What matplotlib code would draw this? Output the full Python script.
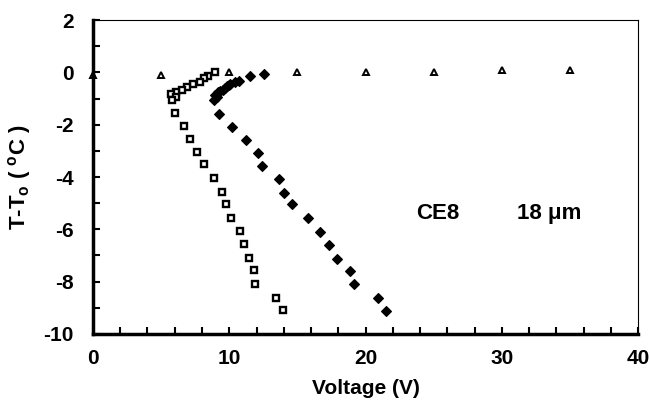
import matplotlib
matplotlib.use("Agg")
import matplotlib.pyplot as plt
from matplotlib.ticker import MultipleLocator

# open squares
sq_x = [8.95, 8.42, 8.17, 7.85, 7.36, 6.87, 6.53, 6.09, 5.74, 6.07, 5.80, 5.99,
        6.68, 7.12, 7.61, 8.14, 8.90, 9.44, 9.76, 10.10, 10.76, 11.06, 11.42,
        11.79, 11.89, 13.43, 13.96]
sq_y = [0.0, -0.13, -0.20, -0.38, -0.43, -0.56, -0.66, -0.76, -0.84, -0.94, -1.04, -1.55,
        -2.06, -2.55, -3.05, -3.52, -4.03, -4.57, -5.04, -5.55, -6.07, -6.58, -7.11,
        -7.56, -8.09, -8.61, -9.08]

# filled diamonds
dm_x = [12.55, 11.52, 10.73, 10.40, 10.05, 9.95, 9.81, 9.65, 9.52, 9.35, 9.19, 9.10,
        8.95, 8.88, 9.24, 10.20, 11.23, 12.08, 12.40, 13.65, 14.01, 14.58, 15.80,
        16.63, 17.34, 17.90, 18.83, 19.13, 20.91, 21.50]
dm_y = [-0.05, -0.15, -0.33, -0.38, -0.43, -0.48, -0.53, -0.60, -0.66, -0.72, -0.76, -0.95,
        -0.88, -1.04, -1.58, -2.09, -2.57, -3.10, -3.56, -4.07, -4.61, -5.05, -5.58,
        -6.10, -6.60, -7.13, -7.58, -8.10, -8.64, -9.12]

# open triangles
tr_x = [0, 5, 10, 15, 20, 25, 30, 35]
tr_y = [-0.08, -0.08, 0.0, 0.0, 0.0, 0.02, 0.1, 0.1]

plt.rcParams['font.family'] = ['Liberation Sans', 'DejaVu Sans']
plt.rcParams['font.weight'] = 'bold'
plt.rcParams['axes.unicode_minus'] = False
plt.rcParams['mathtext.fontset'] = 'custom'
plt.rcParams['mathtext.rm'] = 'Liberation Sans:bold'
plt.rcParams['mathtext.default'] = 'rm'

fig = plt.figure(figsize=(6.5, 4.2), dpi=100)
ax = fig.add_axes([0.143, 0.205, 0.839, 0.747])

ax.plot(sq_x, sq_y, 's', mfc='white', mec='black', ms=5, mew=1.7)
ax.plot(dm_x, dm_y, 'D', mfc='black', mec='black', ms=5, mew=0.8)
ax.plot(tr_x, tr_y, '^', mfc='white', mec='black', ms=5, mew=1.4, clip_on=False, zorder=1)

ax.set_xlim(0, 40)
ax.set_ylim(-10, 2)
ax.xaxis.set_major_locator(MultipleLocator(10))
ax.xaxis.set_minor_locator(MultipleLocator(2))
ax.yaxis.set_major_locator(MultipleLocator(2))
ax.yaxis.set_minor_locator(MultipleLocator(1))
ax.tick_params(which='both', direction='in', length=5, width=1.5, labelsize=15)
ax.tick_params(axis='x', pad=11)
ax.tick_params(axis='y', pad=14)

for s in ['left', 'bottom']:
    ax.spines[s].set_linewidth(2.5)
for s in ['top', 'right']:
    ax.spines[s].set_linewidth(0.8)

ax.set_xlabel('Voltage (V)', fontsize=15, fontweight='bold', labelpad=8)
ax.set_ylabel('T-T$_o$ ( $^o$C )', fontsize=16, fontweight='bold', va='center')
ax.yaxis.set_label_coords(-0.134, 0.5)

ax.text(25.3, -5.4, 'CE8', fontsize=16, fontweight='bold', ha='center', va='center')
ax.text(33.5, -5.4, '18 μm', fontsize=16, fontweight='bold', ha='center', va='center')

fig.savefig('out.png', dpi=100)
